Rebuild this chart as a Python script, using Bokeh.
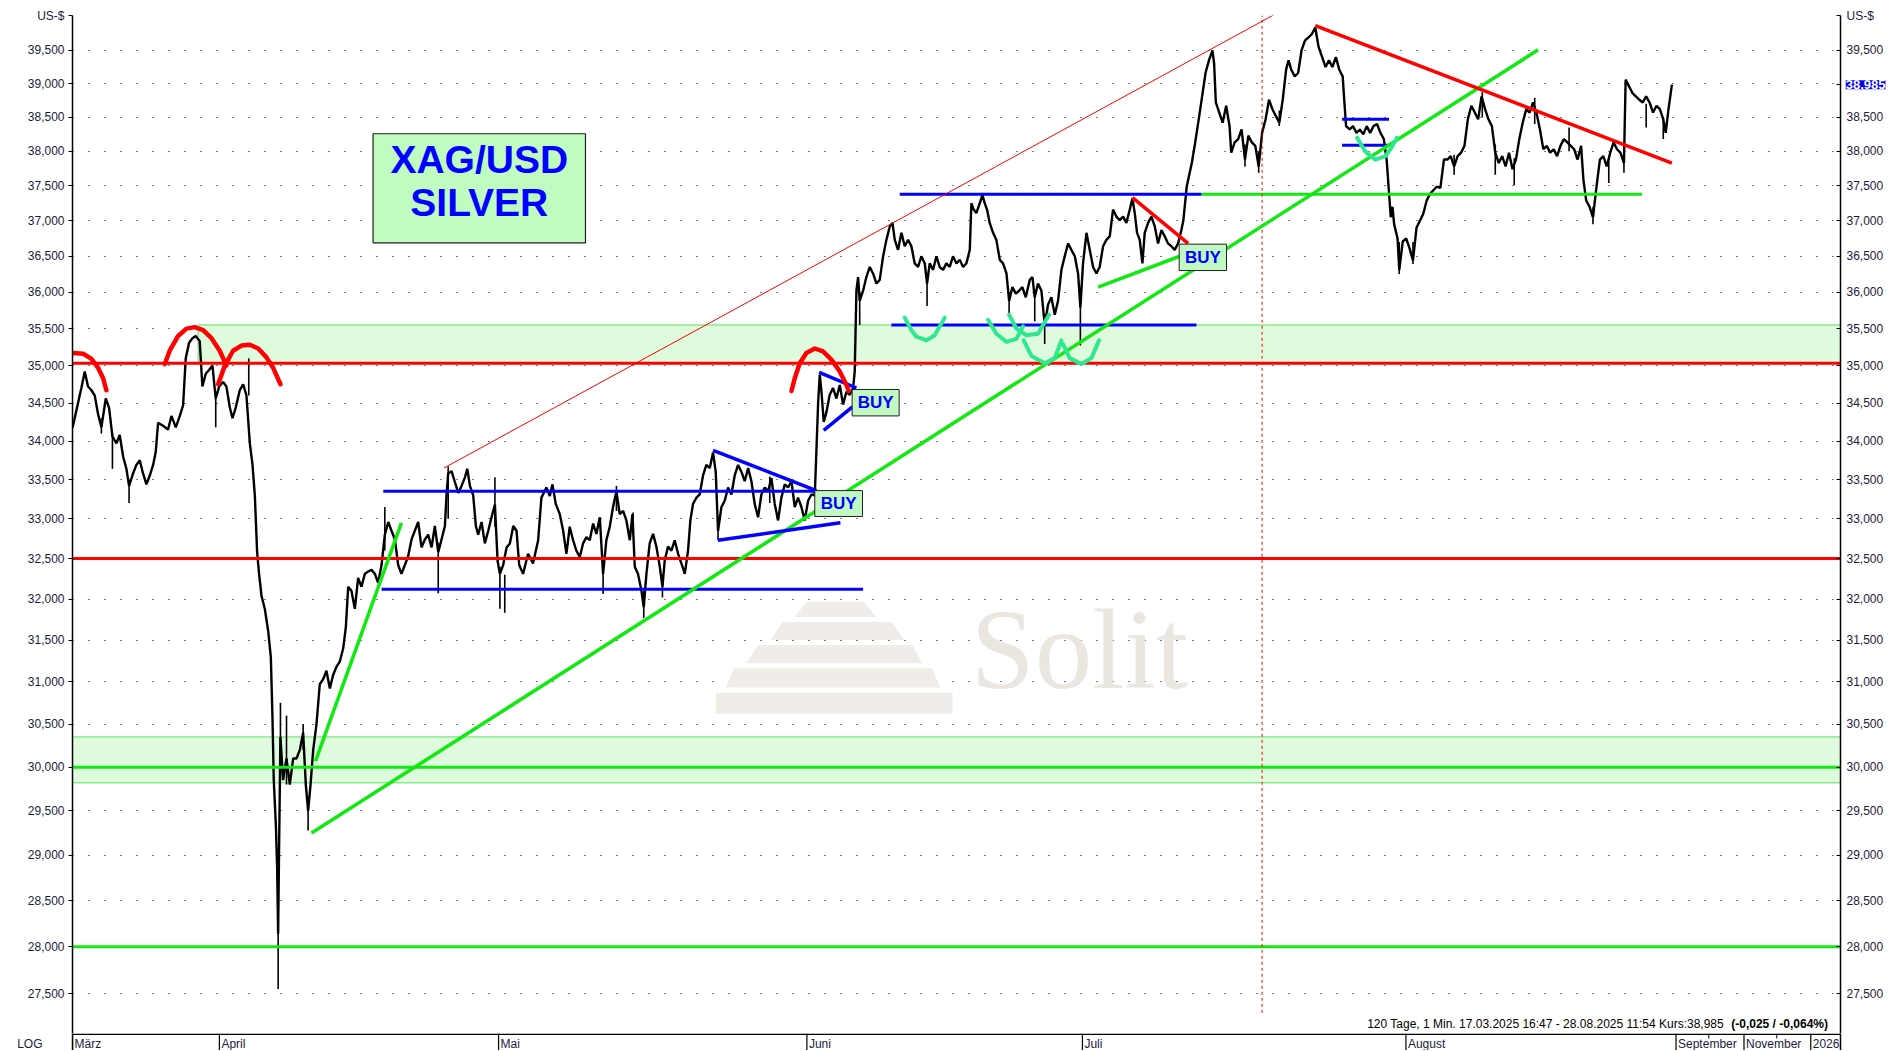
from bokeh.plotting import figure
from bokeh.models import Range1d, FixedTicker, CustomJSTickFormatter, LogAxis, LinearAxis, Label
from bokeh.layouts import column
from bokeh.core.properties import value
from bokeh.embed import file_html
from bokeh.resources import INLINE

FONT = "Liberation Sans"

# ---------------- price path (chart position, XAG/USD) ----------------
xag_path = [
    (0.0, 34.17), (3.2, 34.40), (7.3, 34.70), (10.1, 34.92), (12.8, 34.72), (15.6, 34.67), (18.3, 34.60),
    (21.1, 34.35), (23.8, 34.18), (27.4, 34.56), (30.1, 34.44), (32.9, 34.06), (36.2, 33.97), (38.9, 34.08),
    (41.7, 33.80), (44.4, 33.64), (46.6, 33.42), (49.9, 33.58), (52.6, 33.69), (55.4, 33.75), (58.1, 33.58),
    (60.9, 33.44), (63.6, 33.55), (66.4, 33.69), (68.6, 33.86), (70.5, 34.24), (74.6, 34.20), (78.7, 34.15),
    (81.5, 34.33), (85.1, 34.18), (88.4, 34.33), (91.1, 34.47), (93.3, 35.10), (96.1, 35.31), (98.8, 35.37),
    (101.5, 35.40), (104.8, 35.33), (107.0, 34.72), (109.8, 34.89), (112.5, 34.94), (115.3, 35.00),
    (118.0, 34.56), (120.8, 34.72), (124.1, 34.78), (126.8, 34.72), (129.6, 34.44), (131.8, 34.30),
    (134.5, 34.44), (137.8, 34.67), (140.6, 34.75), (143.3, 34.60), (146.1, 33.97), (148.3, 33.69),
    (150.2, 33.30), (152.1, 32.58), (153.7, 32.31), (155.7, 32.04), (158.4, 31.88), (161.2, 31.61),
    (163.4, 31.29), (164.7, 30.60), (165.8, 29.85), (167.5, 29.35), (168.6, 28.86), (169.4, 28.14),
    (170.2, 29.10), (171.3, 30.35), (173.5, 29.85), (176.3, 30.10), (179.0, 29.80), (181.8, 30.10),
    (184.5, 30.10), (187.3, 30.20), (190.0, 30.40), (192.2, 29.80), (194.1, 29.50), (196.1, 29.80),
    (198.3, 30.20), (201.0, 30.50), (203.7, 30.97), (206.5, 31.03), (209.2, 31.13), (212.0, 30.92),
    (214.7, 31.08), (217.5, 31.18), (220.2, 31.24), (223.0, 31.40), (225.2, 31.66), (227.1, 32.15),
    (229.8, 32.10), (232.6, 31.88), (235.3, 32.26), (238.1, 32.15), (240.8, 32.31), (243.6, 32.34),
    (246.3, 32.36), (249.1, 32.31), (251.8, 32.20), (254.6, 32.42), (257.3, 32.80), (260.1, 32.96),
    (262.8, 32.85), (265.6, 32.74), (268.3, 32.42), (271.0, 32.31), (273.8, 32.42), (276.5, 32.53),
    (279.3, 32.74), (282.0, 32.85), (284.8, 32.96), (287.5, 32.64), (290.3, 32.74), (293.0, 32.80),
    (295.8, 32.64), (298.5, 32.91), (301.3, 32.58), (304.0, 32.74), (306.8, 32.91), (308.1, 33.30),
    (309.5, 33.58), (312.3, 33.61), (315.0, 33.47), (317.8, 33.33), (320.5, 33.42), (323.3, 33.53),
    (325.2, 33.64), (327.4, 33.42), (330.1, 33.30), (332.3, 32.91), (334.2, 32.80), (337.0, 32.96),
    (339.7, 32.69), (342.5, 32.85), (345.2, 33.02), (348.0, 33.18), (350.2, 32.47), (352.1, 32.31),
    (354.8, 32.42), (357.6, 32.64), (360.3, 32.69), (363.1, 32.91), (365.8, 32.85), (368.0, 32.42),
    (371.2, 32.31), (375.3, 32.56), (379.4, 32.44), (383.6, 32.73), (386.3, 33.27), (390.4, 33.40),
    (393.2, 33.29), (395.4, 33.44), (398.1, 33.19), (401.4, 33.06), (404.2, 32.85), (406.9, 32.56),
    (409.6, 32.90), (412.4, 32.73), (415.1, 32.60), (417.9, 32.52), (420.6, 32.69), (423.4, 32.77),
    (426.1, 32.73), (428.9, 32.94), (431.6, 32.81), (434.4, 33.02), (437.1, 32.31), (439.8, 32.73),
    (442.6, 32.90), (445.3, 33.15), (448.1, 33.35), (450.8, 33.06), (453.6, 33.10), (456.3, 32.98),
    (459.1, 32.73), (461.3, 33.06), (463.2, 32.40), (465.9, 32.31), (468.7, 32.10), (470.6, 31.90),
    (472.8, 32.31), (475.5, 32.69), (478.3, 32.81), (481.0, 32.65), (483.8, 32.40), (486.0, 32.15),
    (487.9, 32.48), (490.6, 32.65), (493.4, 32.60), (496.1, 32.73), (498.9, 32.56), (501.6, 32.44),
    (504.4, 32.31), (507.1, 32.60), (509.0, 32.98), (511.2, 33.19), (514.0, 33.27), (516.7, 33.31),
    (519.5, 33.56), (522.2, 33.69), (525.0, 33.65), (527.7, 33.85), (529.9, 33.60), (531.8, 32.85),
    (534.6, 33.15), (537.3, 33.23), (540.1, 33.40), (542.8, 33.31), (545.6, 33.56), (548.3, 33.69),
    (551.1, 33.60), (553.8, 33.48), (556.6, 33.65), (559.3, 33.48), (562.0, 33.19), (564.8, 33.02),
    (567.5, 33.31), (570.3, 33.40), (573.0, 33.35), (575.8, 33.52), (578.5, 33.19), (581.3, 32.98),
    (584.0, 33.27), (586.8, 33.44), (589.5, 33.40), (592.3, 33.48), (595.0, 33.15), (597.7, 33.27),
    (600.5, 33.15), (603.2, 32.98), (606.0, 33.23), (608.7, 33.31), (611.5, 33.30), (612.9, 33.90),
    (614.3, 34.52), (615.6, 34.88), (617.0, 34.65), (618.9, 34.25), (621.1, 34.38), (623.8, 34.61),
    (626.6, 34.70), (629.3, 34.56), (632.1, 34.74), (634.8, 34.48), (637.6, 34.65), (640.3, 34.61),
    (643.1, 34.70), (644.4, 34.92), (645.8, 36.02), (647.2, 36.21), (648.5, 35.88), (651.3, 36.02),
    (654.0, 36.21), (656.8, 36.35), (659.5, 36.26), (662.3, 36.12), (665.0, 36.17), (667.8, 36.50),
    (670.5, 36.73), (673.3, 36.92), (675.5, 36.97), (677.4, 36.73), (680.1, 36.59), (682.9, 36.83),
    (685.6, 36.64), (688.4, 36.73), (691.1, 36.64), (693.8, 36.40), (696.6, 36.35), (699.3, 36.50),
    (702.1, 36.40), (704.0, 36.12), (706.2, 36.40), (709.0, 36.31), (711.7, 36.50), (714.4, 36.35),
    (717.2, 36.31), (719.9, 36.40), (722.7, 36.35), (725.4, 36.50), (728.2, 36.40), (730.9, 36.45),
    (733.7, 36.35), (736.4, 36.40), (739.2, 36.59), (740.5, 37.25), (742.4, 37.16), (744.6, 37.11),
    (747.4, 37.25), (749.6, 37.37), (751.5, 37.25), (753.4, 37.16), (755.6, 36.97), (758.4, 36.83),
    (761.1, 36.73), (763.9, 36.45), (766.6, 36.40), (769.4, 36.26), (771.6, 35.88), (774.3, 36.07),
    (777.1, 35.98), (779.8, 36.02), (782.5, 36.07), (785.3, 35.93), (788.6, 36.17), (790.8, 36.21),
    (792.7, 35.93), (795.4, 36.12), (798.2, 36.02), (800.9, 35.55), (803.7, 35.83), (806.4, 35.93),
    (809.2, 35.69), (811.9, 35.88), (814.7, 36.31), (817.4, 36.50), (820.2, 36.68), (822.9, 36.59),
    (825.7, 36.50), (828.4, 36.26), (830.3, 35.79), (832.5, 36.40), (835.3, 36.83), (838.0, 36.59),
    (840.8, 36.35), (843.5, 36.26), (846.2, 36.35), (849.0, 36.64), (851.7, 36.73), (854.5, 36.78),
    (857.2, 37.16), (860.0, 37.06), (862.7, 37.01), (865.5, 37.06), (868.2, 36.97), (871.0, 37.16),
    (873.2, 37.32), (875.1, 37.11), (877.0, 36.83), (879.2, 36.73), (881.4, 36.40), (883.3, 36.83),
    (886.1, 36.97), (888.8, 37.06), (891.6, 36.92), (894.3, 36.68), (897.1, 36.87), (899.8, 36.78),
    (902.5, 36.68), (905.3, 36.64), (908.0, 36.59), (910.8, 36.68), (913.5, 36.87), (915.1, 37.00),
    (917.9, 37.49), (922.1, 37.83), (924.9, 38.13), (927.8, 38.47), (930.6, 38.81), (933.4, 39.16),
    (936.2, 39.35), (939.1, 39.50), (940.5, 39.30), (941.9, 38.72), (944.7, 38.57), (947.5, 38.42),
    (950.4, 38.67), (953.2, 38.37), (954.6, 37.98), (957.4, 38.13), (960.3, 38.18), (963.1, 38.32),
    (965.9, 37.88), (968.7, 38.23), (971.6, 38.13), (974.4, 38.08), (977.2, 37.78), (980.0, 38.27),
    (982.9, 38.47), (985.7, 38.76), (988.5, 38.62), (991.3, 38.52), (994.2, 38.42), (997.0, 38.76),
    (999.8, 39.21), (1001.8, 39.35), (1004.0, 39.21), (1006.9, 39.11), (1009.7, 39.16), (1012.5, 39.50),
    (1015.3, 39.65), (1018.2, 39.70), (1021.0, 39.75), (1023.8, 39.85), (1026.6, 39.55), (1029.5, 39.40),
    (1032.3, 39.25), (1035.1, 39.35), (1037.9, 39.25), (1040.8, 39.40), (1043.6, 39.21), (1046.4, 39.11),
    (1047.8, 38.72), (1049.2, 38.37), (1052.1, 38.32), (1054.9, 38.37), (1057.7, 38.27), (1060.5, 38.32),
    (1063.4, 38.25), (1066.2, 38.37), (1069.0, 38.27), (1071.8, 38.37), (1074.7, 38.40), (1077.5, 38.27),
    (1080.3, 38.18), (1082.6, 37.88), (1084.6, 37.39), (1086.0, 37.05), (1087.4, 37.20), (1088.8, 36.95),
    (1091.6, 36.75), (1093.0, 36.31), (1095.9, 36.71), (1098.7, 36.75), (1101.5, 36.61), (1104.3, 36.44),
    (1107.2, 36.90), (1110.0, 37.00), (1112.8, 37.10), (1115.6, 37.29), (1118.5, 37.39), (1121.3, 37.44),
    (1124.1, 37.49), (1126.9, 37.47), (1129.8, 37.88), (1132.6, 37.88), (1135.4, 37.93), (1138.2, 37.78),
    (1141.1, 37.93), (1143.9, 37.98), (1146.7, 38.08), (1149.5, 38.47), (1152.4, 38.67), (1155.2, 38.57),
    (1158.0, 38.47), (1160.8, 38.81), (1163.7, 38.62), (1166.5, 38.47), (1169.3, 38.37), (1172.1, 37.98),
    (1175.0, 37.83), (1177.8, 37.93), (1180.6, 37.78), (1183.4, 37.98), (1186.3, 37.74), (1189.1, 37.88),
    (1191.9, 38.18), (1194.7, 38.42), (1197.6, 38.62), (1200.4, 38.57), (1203.2, 38.72), (1206.0, 38.57),
    (1208.9, 38.32), (1211.7, 38.03), (1214.5, 38.08), (1217.3, 37.98), (1220.2, 38.03), (1223.0, 37.93),
    (1225.8, 38.08), (1228.6, 38.18), (1231.5, 38.13), (1234.3, 38.08), (1237.1, 38.03), (1239.9, 37.88),
    (1242.8, 38.08), (1244.7, 37.59), (1247.0, 37.29), (1249.8, 37.20), (1252.6, 37.05), (1255.5, 37.49),
    (1258.3, 37.88), (1261.1, 37.93), (1263.9, 37.78), (1266.8, 37.98), (1269.6, 38.13), (1272.4, 38.03),
    (1275.2, 37.98), (1278.1, 37.83), (1279.5, 39.06), (1282.3, 38.96), (1285.1, 38.86), (1287.9, 38.81),
    (1290.8, 38.76), (1293.6, 38.72), (1296.4, 38.81), (1299.2, 38.72), (1302.1, 38.57), (1304.9, 38.67),
    (1307.7, 38.62), (1310.5, 38.47), (1312.5, 38.27), (1314.8, 38.62), (1317.6, 38.985),
]
bar_pos = [a for a, _ in xag_path]
price = [b for _, b in xag_path]

# single-bar extremes (wicks): position, low, high
wick_pos = [23.8, 32.9, 46.6, 118.0, 145.2, 169.4, 171.3, 176.3, 190.0, 194.1, 257.3, 301.3, 309.5,
            348.0, 352.1, 356.1, 437.1, 448.1, 461.8, 470.6, 486.0, 531.8, 574.4, 648.5, 704.0, 771.6,
            792.7, 800.9, 830.3, 965.9, 977.2, 994.2, 1093.0, 1104.3, 1138.2, 1161.4, 1172.1, 1187.7,
            1204.6, 1232.9, 1252.6, 1265.6, 1278.1, 1296.4, 1310.5]
wick_low = [34.10, 33.64, 33.20, 34.18, 34.60, 27.55, 30.00, 29.80, 30.20, 29.28, 32.60, 32.07, 33.00,
            32.90, 31.88, 31.83, 32.06, 33.10, 32.80, 31.77, 32.02, 32.73, 33.20, 35.55, 35.81, 35.69,
            35.60, 35.29, 35.27, 37.78, 37.69, 38.37, 36.25, 36.39, 37.66, 38.50, 37.66, 37.51,
            38.40, 38.00, 36.95, 37.54, 37.69, 38.35, 38.18]
wick_high = [34.30, 34.10, 33.50, 34.60, 35.10, 28.50, 30.75, 30.60, 30.50, 29.60, 33.15, 32.70, 33.67,
             33.53, 32.40, 32.30, 32.50, 33.42, 33.08, 32.10, 32.30, 33.00, 33.54, 36.00, 36.20, 36.00,
             36.00, 35.70, 35.90, 38.10, 38.00, 38.60, 36.70, 36.70, 37.95, 38.87, 38.10, 37.90,
             38.79, 38.35, 37.20, 37.90, 38.00, 38.70, 38.50]

# axis values
y_ticks = [27.5, 28.0, 28.5, 29.0, 29.5, 30.0, 30.5, 31.0, 31.5, 32.0, 32.5, 33.0, 33.5, 34.0, 34.5,
           35.0, 35.5, 36.0, 36.5, 37.0, 37.5, 38.0, 38.5, 39.0, 39.5]
last_price = 38.985
month_pos = [0, 121, 351, 605, 832, 1098.5, 1321, 1377, 1432]
month_labels = ["März", "April", "Mai", "Juni", "Juli", "August", "September", "November", "2026"]
minor_month_pos = [1348, 1404]
X_END = 1456.5
Y_LO, Y_HI = 27.084, 40.034
unit_pos = 40.03           # level of the "US-$" header (top of the price axis)

# zones and levels
zone_left = [103.5, 0]
zone_right = [X_END, X_END]
zone_low = [35.03, 29.82]
zone_high = [35.55, 30.35]
red_levels = [35.03, 32.5]
green_levels = [30.0, 28.0]

# horizontal segments (x0, x1, level)
blue_h_x0 = [256, 254.6, 681.5, 674.6, 1045.9, 1045.9]
blue_h_x1 = [612.8, 651.3, 930, 925.9, 1084.6, 1084.6]
blue_h_y = [33.35, 32.12, 37.38, 35.55, 38.47, 38.09]
green_h_x0 = [930]
green_h_x1 = [1293]
green_h_y = [37.38]

# trend lines (x0, y0, x1, y1)
green_tl = [(196.9, 29.25, 1207.4, 39.51), (200.2, 30.07, 271.0, 32.95), (844.9, 36.07, 912.2, 36.50)]
red_tl = [(1023.8, 39.88, 1317.6, 37.83), (873.2, 37.33, 919.0, 36.68)]
red_thin_tl = [(306.0, 33.65, 1002.0, 40.17)]
blue_tl = [(527.7, 33.88, 612.8, 33.36), (531.8, 32.73, 632.6, 32.95),
           (615.1, 34.91, 645.8, 34.70), (618.9, 34.14, 642.5, 34.45)]
cursor_x = 980

# head & shoulder arcs
red_arcs_x = [[0.4, 8.7, 15.6, 21.1, 25.2, 27.9],
              [76.0, 80.1, 87.0, 93.9, 100.7, 107.6, 114.5, 121.3, 126.8],
              [120.0, 125.5, 132.3, 139.2, 146.1, 153.0, 159.8, 165.3, 171.3],
              [592.3, 595.0, 599.1, 604.6, 611.5, 618.3, 625.2, 632.1, 637.6, 639.5]]
red_arcs_y = [[35.17, 35.16, 35.09, 34.97, 34.83, 34.67],
              [35.02, 35.20, 35.40, 35.50, 35.52, 35.48, 35.37, 35.20, 35.00],
              [34.75, 35.00, 35.20, 35.27, 35.28, 35.23, 35.11, 34.97, 34.75],
              [34.66, 34.83, 35.03, 35.17, 35.23, 35.19, 35.08, 34.92, 34.74, 34.66]]
cups_x = [[685.6, 691.1, 695.2, 703.5, 710.3, 718.6],
          [754.3, 761.1, 769.4, 777.6, 783.1],
          [771.6, 777.6, 785.8, 795.4, 804.5],
          [783.6, 790.0, 801.0, 809.2, 814.7],
          [816.0, 821.5, 831.1, 839.4, 845.7],
          [1058.3, 1064.8, 1073.3, 1081.7, 1087.4, 1091.1]]
cups_y = [[35.65, 35.48, 35.39, 35.34, 35.41, 35.65],
          [35.62, 35.43, 35.32, 35.36, 35.53],
          [35.69, 35.50, 35.41, 35.43, 35.69],
          [35.34, 35.13, 35.03, 35.10, 35.34],
          [35.29, 35.10, 35.02, 35.10, 35.34],
          [38.20, 38.00, 37.88, 37.93, 38.08, 38.20]]

# label boxes
buy_left = [611.5, 642.3, 911.7]
buy_right = [650.8, 681.0, 950.7]
buy_bottom = [33.03, 34.33, 36.30]
buy_top = [33.36, 34.68, 36.67]
title_box = (247.6, 422.6, 36.689, 38.257)
title_lines = ["XAG/USD", "SILVER"]
title_y = [37.881, 37.261]

# watermark (Solit logo)
wm_xs = [[605, 652, 662, 595], [585, 675, 685, 575], [565, 692, 700, 555], [545, 708, 715, 538], [530, 725, 725, 530]]
wm_ys = [[31.97, 31.97, 31.78, 31.78], [31.72, 31.72, 31.50, 31.50], [31.44, 31.44, 31.22, 31.22],
         [31.16, 31.16, 30.93, 30.93], [30.87, 30.87, 30.62, 30.62]]
wm_text_pos = (740, 31.39)

info_text = "120 Tage, 1 Min. 17.03.2025 16:47 - 28.08.2025 11:54  Kurs:38,985"
info_bold = "(-0,025 / -0,064%)"
info_y = 27.188

# ---------------- figure ----------------
RED = "#ff0000"
GREEN = "#12e812"
BLUE = "#0000ff"
MINT = "#2ee890"
TXT = "#1c1c3c"

grid_ticker = FixedTicker(ticks=y_ticks)
left_ticker = FixedTicker(ticks=y_ticks + [unit_pos])
right_ticker = FixedTicker(ticks=[t for t in y_ticks if t != 39.0] + [last_price, unit_pos])
fmt = CustomJSTickFormatter(code="if (tick > 39.9) { return 'US-$'; } return tick.toFixed(3).replace('.', ',');")

p = figure(width=1900, height=1033, y_axis_type="log",
           x_range=Range1d(0, X_END), y_range=Range1d(Y_LO, Y_HI),
           output_backend="svg", toolbar_location=None, x_axis_location=None,
           min_border_left=72, min_border_right=60, min_border_top=15, min_border_bottom=0)
p.outline_line_color = None
p.background_fill_color = "white"
p.xgrid.visible = False

lax = p.yaxis[0]
lax.ticker = left_ticker
lax.formatter = fmt
rax = LogAxis(ticker=right_ticker, formatter=fmt)
p.add_layout(rax, "right")
for a in (lax, rax):
    a.axis_line_color = "black"
    a.axis_line_width = 1.5
    a.major_tick_line_color = "black"
    a.major_tick_line_width = 1
    a.minor_tick_line_color = None
    a.major_label_text_font = FONT
    a.major_label_text_font_size = "12px"
    a.major_label_text_color = TXT
lax.major_tick_out = 4
lax.major_tick_in = 0
lax.major_label_standoff = 4
rax.major_tick_out = 0
rax.major_tick_in = 4
rax.major_label_standoff = 6

p.ygrid.ticker = grid_ticker
p.ygrid.grid_line_color = "black"
p.ygrid.grid_line_dash = "1 15"
p.ygrid.grid_line_width = 1

# watermark
p.patches(xs=wm_xs, ys=wm_ys, fill_color="#f0ede8", line_color=None)
p.text(x=[wm_text_pos[0]], y=[wm_text_pos[1]], text=["Solit"], text_font=value("Liberation Serif"),
       text_font_size="115px", text_color="#ebe7e0", text_baseline="middle", text_align="left")

# zones
p.quad(left=zone_left, right=zone_right, bottom=zone_low, top=zone_high,
       fill_color="#defbde", line_color="#5ede5e", line_width=1)

# price
p.line(bar_pos, price, color="black", line_width=2.4)
p.segment(x0=wick_pos, y0=wick_low, x1=wick_pos, y1=wick_high, color="black", line_width=1.6)

# levels
p.segment(x0=[0] * len(red_levels), x1=[X_END] * len(red_levels), y0=red_levels, y1=red_levels,
          color=RED, line_width=3)
p.segment(x0=[0] * len(green_levels), x1=[X_END] * len(green_levels), y0=green_levels, y1=green_levels,
          color=GREEN, line_width=3)
p.segment(x0=green_h_x0, x1=green_h_x1, y0=green_h_y, y1=green_h_y, color=GREEN, line_width=3)
p.segment(x0=blue_h_x0, x1=blue_h_x1, y0=blue_h_y, y1=blue_h_y, color=BLUE, line_width=3)

# vertical cursor
p.segment(x0=[cursor_x], x1=[cursor_x], y0=[27.3], y1=[Y_HI], color=RED, line_width=1, line_dash="3 3")


def trend(lst, **kw):
    p.segment(x0=[t[0] for t in lst], y0=[t[1] for t in lst],
              x1=[t[2] for t in lst], y1=[t[3] for t in lst], **kw)


trend(red_thin_tl, color=RED, line_width=1)
trend(green_tl, color=GREEN, line_width=3.5)
trend(red_tl, color=RED, line_width=3.5)
trend(blue_tl, color=BLUE, line_width=3.5)

p.multi_line(xs=red_arcs_x, ys=red_arcs_y, color=RED, line_width=4.5, line_cap="round", line_join="round")
p.multi_line(xs=cups_x, ys=cups_y, color=MINT, line_width=4, line_cap="round", line_join="round")

# boxes
p.quad(left=buy_left, right=buy_right, bottom=buy_bottom, top=buy_top,
       fill_color="#c2f8c2", line_color="#202020", line_width=1)
p.text(x=[(a + b) / 2 for a, b in zip(buy_left, buy_right)],
       y=[(a + b) / 2 for a, b in zip(buy_bottom, buy_top)], text=["BUY"] * 3,
       text_font=value(FONT), text_font_style="bold", text_font_size="17px", text_color=BLUE,
       text_align="center", text_baseline="middle")
p.quad(left=[title_box[0]], right=[title_box[1]], bottom=[title_box[2]], top=[title_box[3]],
       fill_color="#c0fcc0", line_color="#202020", line_width=1.2)
p.text(x=[(title_box[0] + title_box[1]) / 2] * 2, y=title_y, text=title_lines,
       text_font=value(FONT), text_font_style="bold", text_font_size="39px", text_color=BLUE,
       text_align="center", text_baseline="middle")

# info line
p.text(x=[1363.2], y=[info_y], text=[info_text], text_font=value(FONT), text_font_size="12px",
       text_color="black", text_align="right", text_baseline="middle")
p.text(x=[1366.5], y=[info_y], text=[info_bold], text_font=value(FONT), text_font_size="12px",
       text_font_style="bold", text_color="black", text_align="left", text_baseline="middle")

# last price marker: placed in a side panel so that it is drawn beside the frame
p.add_layout(Label(x=1460.8, y=last_price, text="38,985", text_align="left", text_baseline="middle",
                   text_font=FONT, text_font_size="13px", text_font_style="bold", text_color="white",
                   background_fill_color=BLUE), "above")

# ---------------- month row ----------------
p2 = figure(width=1900, height=17, x_range=Range1d(0, X_END), y_range=Range1d(0, 17),
            output_backend="svg", toolbar_location=None, x_axis_location=None, y_axis_location="left",
            min_border=0)
p2.grid.visible = False
p2.outline_line_color = None
bl = p2.yaxis[0]
bl.ticker = FixedTicker(ticks=[7])
bl.major_label_overrides = {7: "LOG"}
bl.major_tick_out = 0
bl.major_tick_in = 0
bl.major_label_standoff = 30
bl.axis_line_color = "black"
bl.axis_line_width = 1.5
bl.major_label_text_font = FONT
bl.major_label_text_font_size = "12px"
bl.major_label_text_color = TXT
br = LinearAxis(ticker=FixedTicker(ticks=[]), axis_line_color="black", axis_line_width=1.5,
                major_tick_line_color=None, minor_tick_line_color=None)
p2.add_layout(br, "right")
p2.segment(x0=[0], x1=[X_END], y0=[16.3], y1=[16.3], color="black", line_width=1.5)
p2.segment(x0=month_pos, x1=month_pos, y0=[0] * len(month_pos), y1=[17] * len(month_pos),
           color="black", line_width=1.2)
p2.segment(x0=minor_month_pos, x1=minor_month_pos, y0=[12, 12], y1=[17, 17], color="black", line_width=1)
p2.text(x=month_pos, y=[7] * len(month_pos), text=month_labels, x_offset=2, text_font=value(FONT),
        text_font_size="12px", text_color=TXT, text_align="left", text_baseline="middle")

layout = column(p, p2, spacing=0)
open("out.html", "w").write(file_html(layout, INLINE))
